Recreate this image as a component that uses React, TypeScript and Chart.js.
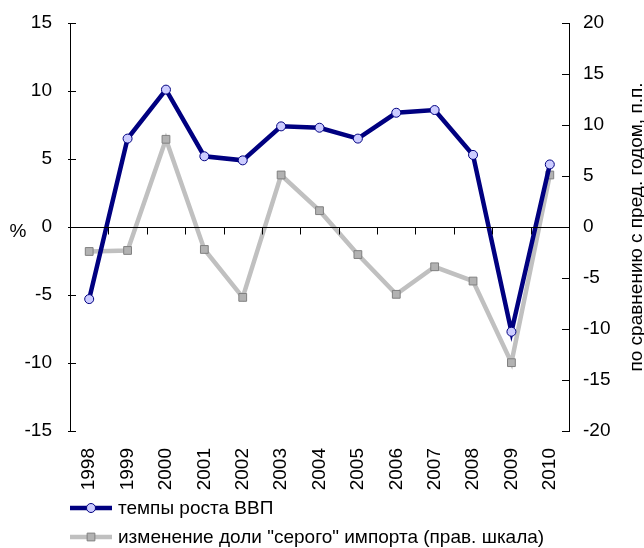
import React, { useEffect, useRef } from "react";
import { Chart, registerables } from "chart.js";

Chart.register(...registerables);

const years = ["1998","1999","2000","2001","2002","2003","2004","2005","2006","2007","2008","2009","2010"];
const gdpGrowth = [-5.3, 6.5, 10.1, 5.2, 4.9, 7.4, 7.3, 6.5, 8.4, 8.6, 5.3, -7.7, 4.6];
const greyImportChange = [-2.4, -2.3, 8.6, -2.2, -6.9, 5.1, 1.6, -2.7, -6.6, -3.9, -5.3, -13.3, 5.1];
const leftTicks = { min: -15, max: 15, step: 5 };
const rightTicks = { min: -20, max: 20, step: 5 };
const gdpLabel = "темпы роста ВВП";
const greyLabel = "изменение доли \"серого\" импорта (прав. шкала)";
const rightTitle = "по сравнению с пред. годом, п.п.";
const leftTitle = "%";

const FONT = "'Liberation Sans', Arial, sans-serif";
const FS = 19;

const overlay = {
  id: "overlay",
  afterDatasetsDraw(chart: any) {
    const { ctx, chartArea } = chart;
    const x = chart.scales.x;
    const yl = chart.scales.y;
    const yr = chart.scales.y1;
    ctx.save();
    ctx.strokeStyle = "#000";
    ctx.lineWidth = 1;
    const y0 = Math.round(yl.getPixelForValue(0)) + 0.5;
    ctx.beginPath();
    ctx.moveTo(chartArea.left - 2, y0);
    ctx.lineTo(chartArea.right, y0);
    for (let i = 0; i < years.length - 1; i++) {
      const bx = Math.round((x.getPixelForValue(i) + x.getPixelForValue(i + 1)) / 2) + 0.5;
      ctx.moveTo(bx, y0);
      ctx.lineTo(bx, y0 + 7);
    }
    ctx.stroke();
    ctx.beginPath();
    yl.ticks.forEach((t: any) => {
      const py = Math.round(yl.getPixelForValue(t.value)) + 0.5;
      ctx.moveTo(chartArea.left - 2, py);
      ctx.lineTo(chartArea.left + 6, py);
    });
    yr.ticks.forEach((t: any) => {
      const py = Math.round(yr.getPixelForValue(t.value)) + 0.5;
      ctx.moveTo(chartArea.right - 7, py);
      ctx.lineTo(chartArea.right, py);
    });
    ctx.stroke();
    ctx.restore();
  },
  afterDraw(chart: any) {
    const { ctx, chartArea } = chart;
    const yl = chart.scales.y;
    ctx.save();
    ctx.fillStyle = "#000";
    ctx.font = `${FS}px ${FONT}`;
    ctx.textAlign = "center";
    ctx.textBaseline = "middle";
    ctx.fillText(leftTitle, 18, yl.getPixelForValue(0) + 5);
    ctx.save();
    ctx.translate(chart.width - 7, (chartArea.top + chartArea.bottom) / 2);
    ctx.rotate(-Math.PI / 2);
    ctx.fillText(rightTitle, 0, 0);
    ctx.restore();
    const ds = chart.data.datasets;
    const rows = [chart.height - 40, chart.height - 11];
    ds.forEach((d: any, i: number) => {
      const ly = rows[i];
      const lx0 = chartArea.left;
      const lx1 = chartArea.left + 42;
      ctx.strokeStyle = d.borderColor;
      ctx.lineWidth = d.borderWidth;
      ctx.beginPath();
      ctx.moveTo(lx0, ly);
      ctx.lineTo(lx1, ly);
      ctx.stroke();
      const cx = (lx0 + lx1) / 2;
      ctx.fillStyle = d.pointBackgroundColor;
      ctx.strokeStyle = d.pointBorderColor;
      ctx.lineWidth = d.pointBorderWidth;
      ctx.beginPath();
      if (d.pointStyle === "rect") {
        const s = d.pointRadius * 1.414;
        ctx.rect(cx - s / 2, ly - s / 2, s, s);
      } else {
        ctx.arc(cx, ly, d.pointRadius, 0, Math.PI * 2);
      }
      ctx.fill();
      ctx.stroke();
      ctx.fillStyle = "#000";
      ctx.textAlign = "left";
      ctx.textBaseline = "middle";
      ctx.fillText(d.label, lx1 + 6, ly + 1);
    });
    ctx.restore();
  },
};

export default function App() {
  const ref = useRef<HTMLCanvasElement>(null);
  useEffect(() => {
    document.body.style.margin = "0";
    const chart = new Chart(ref.current!, {
      type: "line",
      data: {
        labels: years,
        datasets: [
          {
            label: gdpLabel,
            data: gdpGrowth,
            yAxisID: "y",
            borderColor: "#000080",
            borderWidth: 4.5,
            pointStyle: "circle",
            pointRadius: 4.5,
            pointBackgroundColor: "#ccccff",
            pointBorderColor: "#000080",
            pointBorderWidth: 1,
            tension: 0,
          },
          {
            label: greyLabel,
            data: greyImportChange,
            yAxisID: "y1",
            borderColor: "#c0c0c0",
            borderWidth: 4.5,
            pointStyle: "rect",
            pointRadius: 5.5,
            pointBackgroundColor: "#b2b2b2",
            pointBorderColor: "#808080",
            pointBorderWidth: 1,
            tension: 0,
          },
        ],
      },
      options: {
        animation: false,
        responsive: false,
        layout: { padding: { top: 23, left: 0, right: 0, bottom: 0 } },
        plugins: { legend: { display: false }, tooltip: { enabled: false } },
        scales: {
          x: {
            type: "category",
            offset: true,
            grid: { display: false, drawTicks: false },
            border: { display: false },
            ticks: {
              autoSkip: false,
              maxRotation: 90,
              minRotation: 90,
              padding: 17,
              color: "#000",
              font: { family: FONT, size: FS },
            },
            afterFit: (s: any) => { s.height = 117; s.paddingLeft = 0; s.paddingRight = 0; },
          },
          y: {
            position: "left",
            min: leftTicks.min,
            max: leftTicks.max,
            grid: { display: false, drawTicks: false },
            border: { display: true, color: "#000", width: 1 },
            ticks: {
              stepSize: leftTicks.step,
              padding: 18,
              color: "#000",
              font: { family: FONT, size: FS },
            },
            afterFit: (s: any) => { s.width = 70; s.paddingTop = 0; s.paddingBottom = 0; },
          },
          y1: {
            position: "right",
            min: rightTicks.min,
            max: rightTicks.max,
            grid: { display: false, drawTicks: false },
            border: { display: true, color: "#000", width: 1 },
            ticks: {
              stepSize: rightTicks.step,
              padding: 14,
              color: "#000",
              font: { family: FONT, size: FS },
            },
            afterFit: (s: any) => { s.width = 75; s.paddingTop = 0; s.paddingBottom = 0; },
          },
        },
      },
      plugins: [overlay],
    });
    return () => chart.destroy();
  }, []);
  return <canvas ref={ref} width={644} height={548} style={{ display: "block" }} />;
}
